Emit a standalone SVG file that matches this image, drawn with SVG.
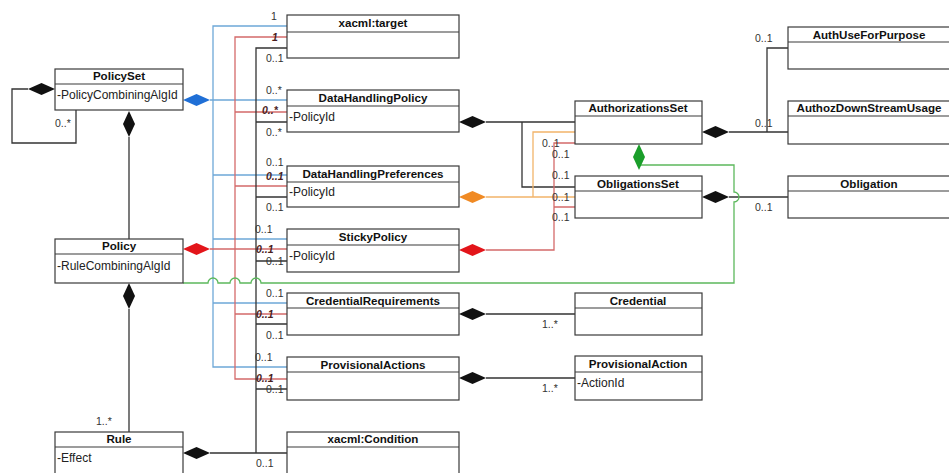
<svg xmlns="http://www.w3.org/2000/svg" width="949" height="473" viewBox="0 0 949 473">
<style>
.box{fill:#fff;stroke:#3a3a3a;stroke-width:1.2}
.div{stroke:#3a3a3a;stroke-width:1.2}
.t{font-family:"Liberation Sans",Arial,sans-serif;font-size:11.6px;font-weight:bold;fill:#111;text-anchor:middle}
.a{font-family:"Liberation Sans",Arial,sans-serif;font-size:12px;fill:#222}
.m{font-family:"Liberation Sans",Arial,sans-serif;font-size:10.5px;fill:#333}
.mi{font-family:"Liberation Sans",Arial,sans-serif;font-size:10.5px;fill:#4a1e1e;font-weight:bold;font-style:italic}
.k{fill:none;stroke:#333;stroke-width:1.3}
.bl{fill:none;stroke:#6ea8d8;stroke-width:1.3}
.rd{fill:none;stroke:#d46a6a;stroke-width:1.3}
.or{fill:none;stroke:#f2b46a;stroke-width:1.3}
.gr{fill:none;stroke:#5cb85c;stroke-width:1.3}
</style>
<defs>
<path id="dh" d="M0,0 L13.5,-6 L27,0 L13.5,6 Z"/>
<path id="dv" d="M0,0 L6,13 L0,26 L-6,13 Z"/>
</defs>
<rect width="949" height="473" fill="#fff"/>
<g id="connectors">
<path class="k" d="M28,89 H12 V143 H76 V110"/>
<path class="k" d="M129,137 V239"/>
<path class="k" d="M129,309 V432"/>
<path class="bl" d="M287,26 H213 V367 H287 M210,100 H287 M213,175 H287 M213,239 H287 M213,303 H287"/>
<path class="rd" d="M287,37 H235 V379 H287 M235,112 H287 M235,186 H287 M210,249 H287 M235,314 H287"/>
<path class="k" d="M287,48 H256 V453 M210,453 H287 M256,122 H287 M256,197 H287 M256,261 H287 M256,324 H287 M256,389 H287"/>
<path class="k" d="M486,122 H575 M522,122 V187 H575"/>
<path class="or" d="M486,197 H575 M533,197 V132 H575"/>
<path class="rd" d="M486,250 H554 V143 H575 M554,207 H575"/>
<path class="k" d="M729,132 H788 M767,132 V48 H788"/>
<path class="k" d="M729,197 H788"/>
<path class="k" d="M486,314 H575 M486,378 H575"/>
<path class="gr" d="M183,283 H208 A5,5 0 0 1 218,283 H230 A5,5 0 0 1 240,283 H251 A5,5 0 0 1 261,283 H734 V202 A5,5 0 0 0 734,192 V165 H639"/>
<use href="#dh" x="28" y="89" fill="#111"/>
<use href="#dv" x="129" y="111" fill="#111"/>
<use href="#dv" x="129" y="283" fill="#111"/>
<use href="#dh" x="183" y="100" fill="#1f6fd6"/>
<use href="#dh" x="183" y="249" fill="#e3151a"/>
<use href="#dh" x="183" y="453" fill="#111"/>
<use href="#dh" x="459" y="122" fill="#111"/>
<use href="#dh" x="459" y="197" fill="#f08a24"/>
<use href="#dh" x="459" y="250" fill="#e3151a"/>
<use href="#dh" x="459" y="314" fill="#111"/>
<use href="#dh" x="459" y="378" fill="#111"/>
<use href="#dh" x="702" y="132" fill="#111"/>
<use href="#dh" x="702" y="197" fill="#111"/>
<use href="#dv" x="639" y="144" fill="#1a9e2a"/>
<text class="m" x="55" y="127">0..*</text>
<text class="m" x="96" y="425">1..*</text>
<text class="m" x="271" y="20">1</text>
<text class="m" x="266" y="94">0..*</text>
<text class="m" x="266" y="166">0..1</text>
<text class="m" x="255" y="233">0..1</text>
<text class="m" x="266" y="297">0..1</text>
<text class="m" x="255" y="361">0..1</text>
<text class="mi" x="272" y="41">1</text>
<text class="mi" x="262" y="114">0..*</text>
<text class="mi" x="266" y="180">0..1</text>
<text class="mi" x="256" y="253">0..1</text>
<text class="mi" x="256" y="318">0..1</text>
<text class="mi" x="256" y="382">0..1</text>
<text class="m" x="266" y="62">0..1</text>
<text class="m" x="266" y="136">0..*</text>
<text class="m" x="266" y="211">0..1</text>
<text class="m" x="266" y="265">0..1</text>
<text class="m" x="266" y="339">0..1</text>
<text class="m" x="266" y="393">0..1</text>
<text class="m" x="256" y="467">0..1</text>
<text class="m" x="542" y="147">0..1</text>
<text class="m" x="552" y="158">0..1</text>
<text class="m" x="552" y="179">0..1</text>
<text class="m" x="552" y="201">0..1</text>
<text class="m" x="552" y="221">0..1</text>
<text class="m" x="755" y="42">0..1</text>
<text class="m" x="755" y="127">0..1</text>
<text class="m" x="755" y="211">0..1</text>
<text class="m" x="542" y="328">1..*</text>
<text class="m" x="542" y="392">1..*</text>
</g>
<g id="PolicySet"><rect class="box" x="55" y="69" width="128" height="41"/><line class="div" x1="55" y1="84" x2="183" y2="84"/><text class="t" x="119" y="80">PolicySet</text><text class="a" x="57" y="99">-PolicyCombiningAlgId</text></g>
<g id="Policy"><rect class="box" x="55" y="239" width="128" height="44"/><line class="div" x1="55" y1="254" x2="183" y2="254"/><text class="t" x="119" y="250">Policy</text><text class="a" x="57" y="270">-RuleCombiningAlgId</text></g>
<g id="Rule"><rect class="box" x="55" y="432" width="128" height="50"/><line class="div" x1="55" y1="447" x2="183" y2="447"/><text class="t" x="119" y="443">Rule</text><text class="a" x="57" y="462">-Effect</text></g>
<g id="xacmlTarget"><rect class="box" x="287" y="15" width="172" height="43"/><line class="div" x1="287" y1="32" x2="459" y2="32"/><text class="t" x="373" y="27">xacml:target</text></g>
<g id="DataHandlingPolicy"><rect class="box" x="287" y="90" width="172" height="42"/><line class="div" x1="287" y1="106" x2="459" y2="106"/><text class="t" x="373" y="102">DataHandlingPolicy</text><text class="a" x="289" y="121">-PolicyId</text></g>
<g id="DataHandlingPreferences"><rect class="box" x="287" y="166" width="172" height="41"/><line class="div" x1="287" y1="182" x2="459" y2="182"/><text class="t" x="373" y="178">DataHandlingPreferences</text><text class="a" x="289" y="196">-PolicyId</text></g>
<g id="StickyPolicy"><rect class="box" x="287" y="229" width="172" height="43"/><line class="div" x1="287" y1="245" x2="459" y2="245"/><text class="t" x="373" y="241">StickyPolicy</text><text class="a" x="289" y="260">-PolicyId</text></g>
<g id="CredentialRequirements"><rect class="box" x="287" y="293" width="172" height="42"/><line class="div" x1="287" y1="308" x2="459" y2="308"/><text class="t" x="373" y="305">CredentialRequirements</text></g>
<g id="ProvisionalActions"><rect class="box" x="287" y="357" width="172" height="43"/><line class="div" x1="287" y1="372" x2="459" y2="372"/><text class="t" x="373" y="369">ProvisionalActions</text></g>
<g id="xacmlCondition"><rect class="box" x="287" y="432" width="172" height="50"/><line class="div" x1="287" y1="447" x2="459" y2="447"/><text class="t" x="373" y="443">xacml:Condition</text></g>
<g id="AuthorizationsSet"><rect class="box" x="575" y="101" width="127" height="43"/><line class="div" x1="575" y1="116" x2="702" y2="116"/><text class="t" x="638" y="112">AuthorizationsSet</text></g>
<g id="ObligationsSet"><rect class="box" x="575" y="176" width="127" height="42"/><line class="div" x1="575" y1="191" x2="702" y2="191"/><text class="t" x="638" y="188">ObligationsSet</text></g>
<g id="Credential"><rect class="box" x="575" y="293" width="127" height="42"/><line class="div" x1="575" y1="308" x2="702" y2="308"/><text class="t" x="638" y="305">Credential</text></g>
<g id="ProvisionalAction"><rect class="box" x="575" y="356" width="127" height="44"/><line class="div" x1="575" y1="372" x2="702" y2="372"/><text class="t" x="638" y="368">ProvisionalAction</text><text class="a" x="577" y="387">-ActionId</text></g>
<g id="AuthUseForPurpose"><rect class="box" x="788" y="27" width="164" height="42"/><line class="div" x1="788" y1="42" x2="952" y2="42"/><text class="t" x="869" y="39">AuthUseForPurpose</text></g>
<g id="AuthozDownStreamUsage"><rect class="box" x="788" y="101" width="164" height="43"/><line class="div" x1="788" y1="116" x2="952" y2="116"/><text class="t" x="869" y="112">AuthozDownStreamUsage</text></g>
<g id="Obligation"><rect class="box" x="788" y="176" width="164" height="42"/><line class="div" x1="788" y1="191" x2="952" y2="191"/><text class="t" x="869" y="188">Obligation</text></g>
</svg>
